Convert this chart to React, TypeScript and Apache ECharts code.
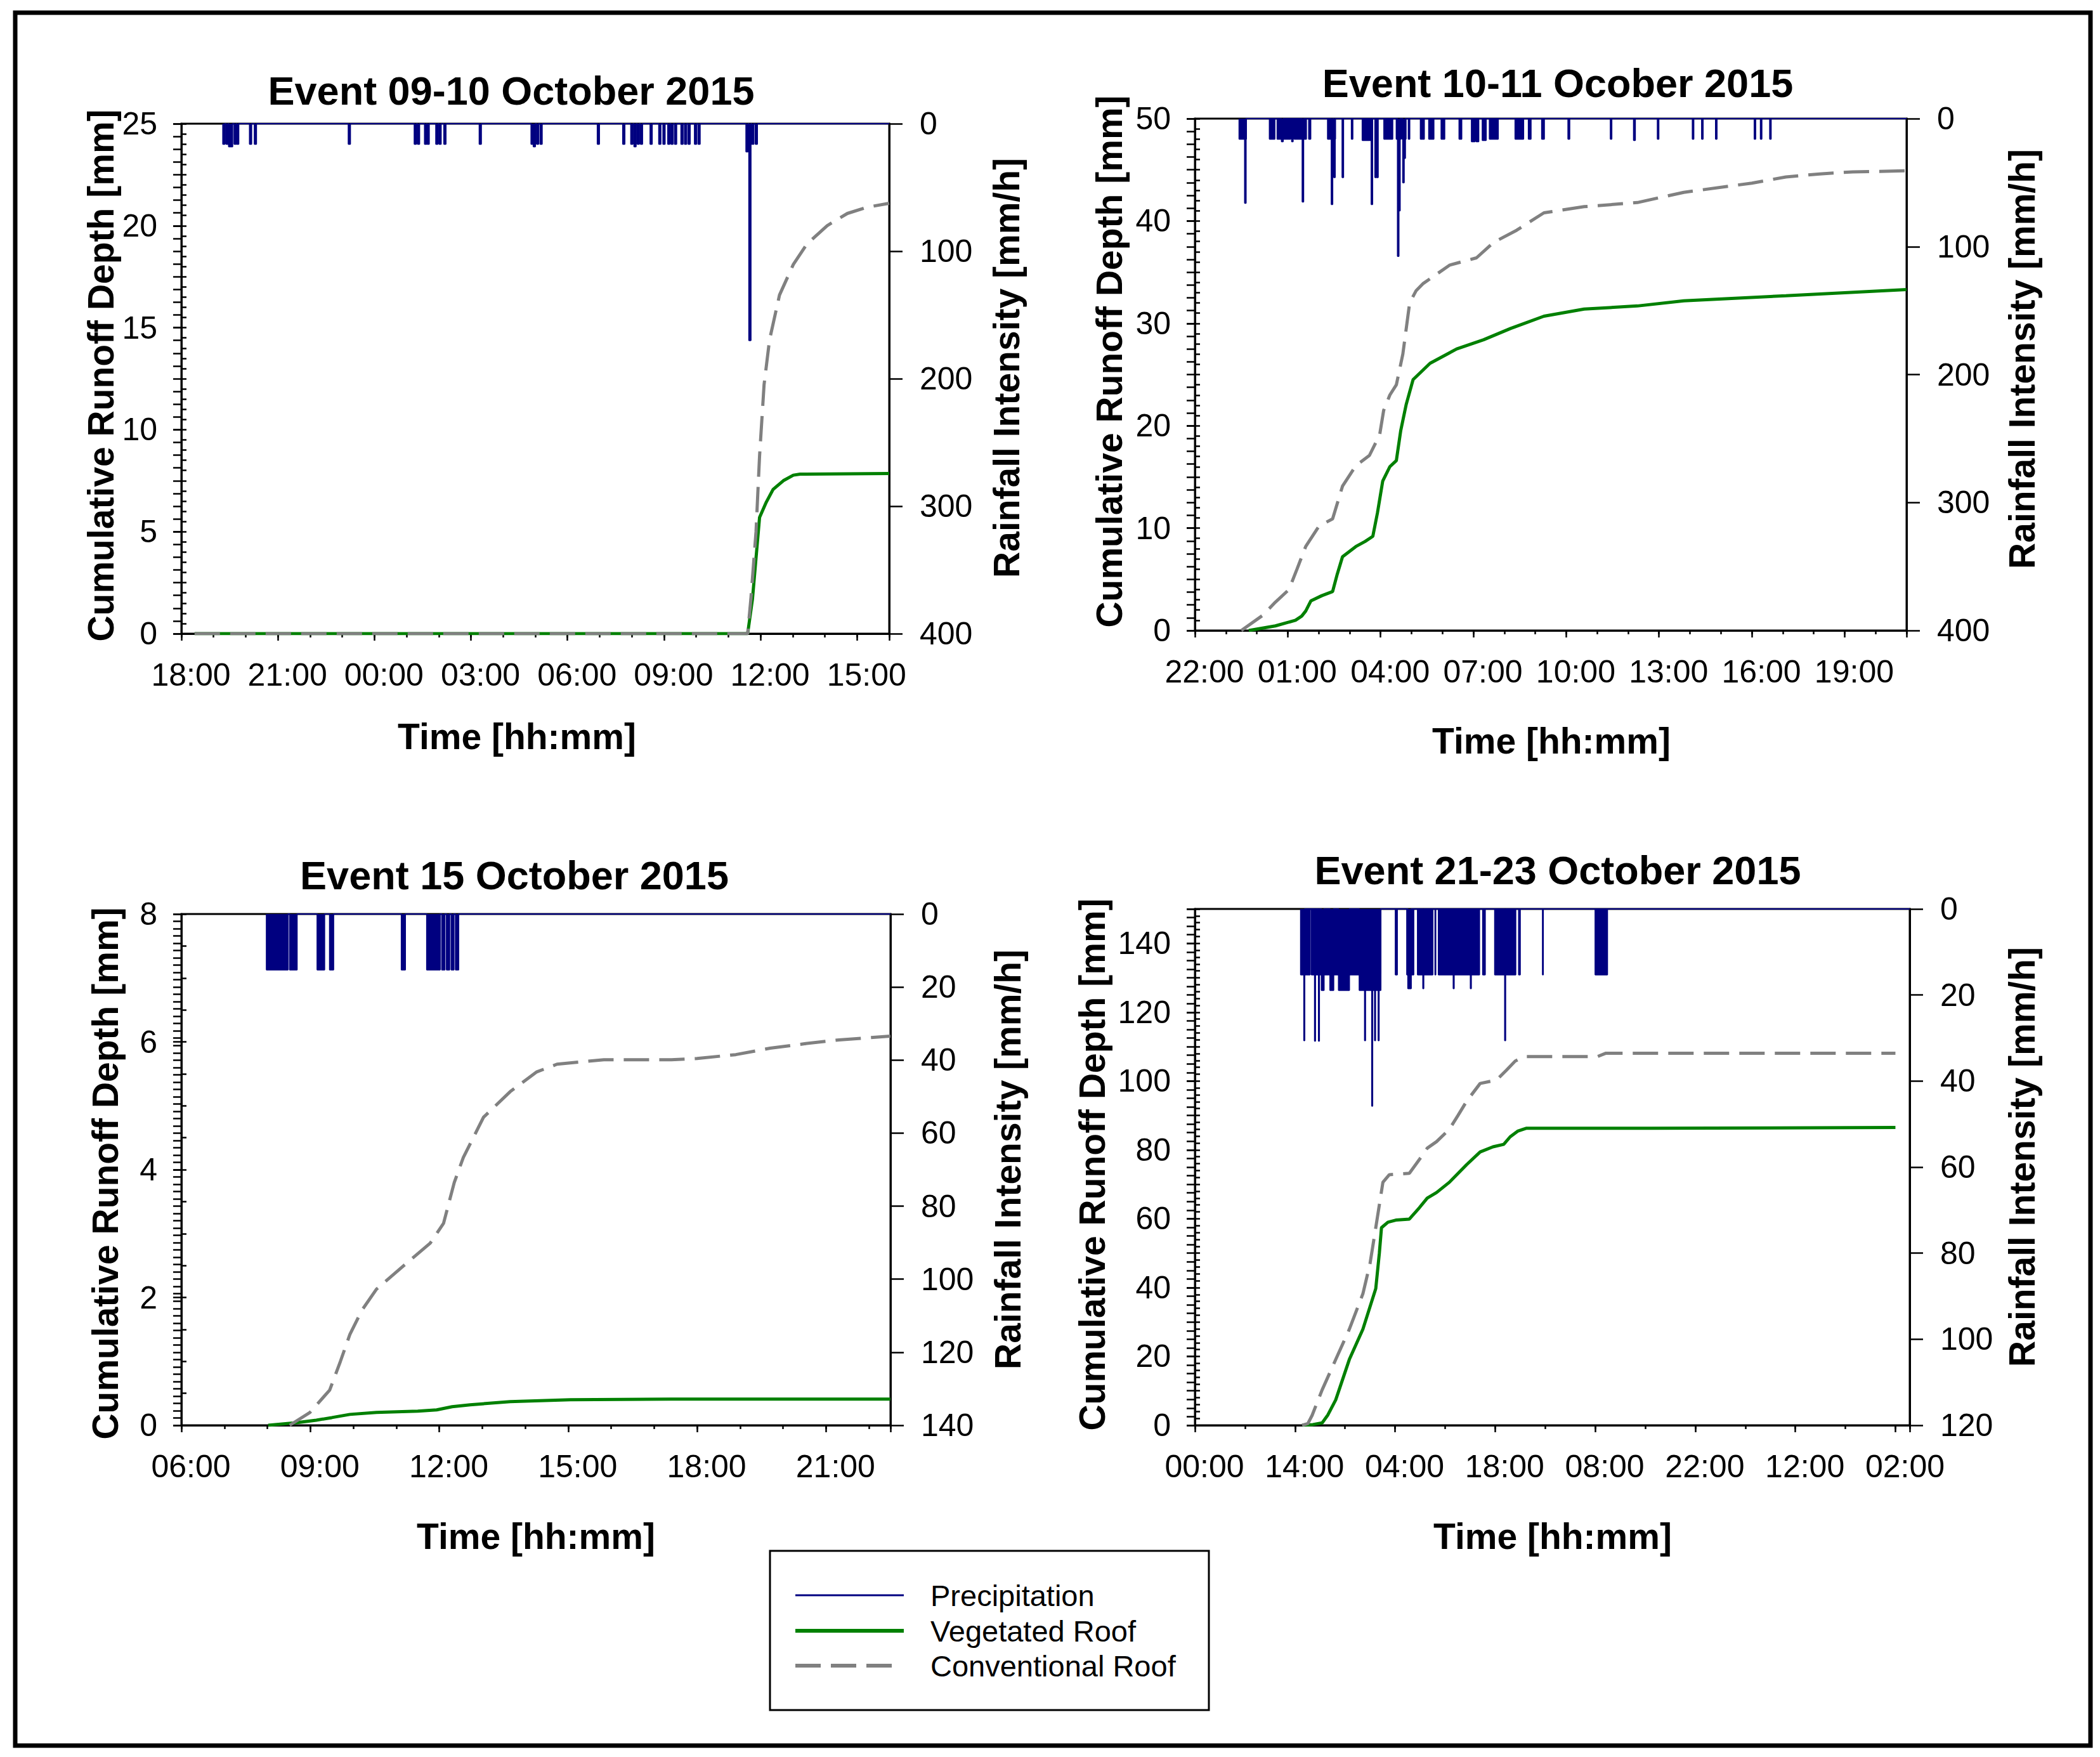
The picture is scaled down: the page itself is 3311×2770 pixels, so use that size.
import React, { useEffect, useRef } from "react";
import * as echarts from "echarts";

const FONT = '"Liberation Sans", Arial, Helvetica, sans-serif';
const NAVY = "#000080";
const GREEN = "#008000";
const GRAY = "#808080";

// ---------------- Panel 1: Event 09-10 October 2015 (axis starts 18:00) ----------------
const p1Title = "Event 09-10 October 2015";
const p1StartHour = 18;
const p1VegT = [0.41, 17.6, 17.75, 17.86, 17.97, 18.18, 18.39, 18.71, 19.02, 19.23, 22];
const p1VegV = [0, 0, 1.7, 3.7, 5.7, 6.45, 7.07, 7.5, 7.77, 7.82, 7.85];
const p1ConvT = [0.41, 17.6, 17.7, 17.86, 17.97, 18.11, 18.28, 18.59, 19.02, 19.44, 20.07, 20.7, 21.3, 22];
const p1ConvV = [0, 0, 1.7, 5.0, 8.7, 12.2, 14.4, 16.6, 18.1, 19.1, 20.0, 20.6, 20.9, 21.1];
const p1RainT = [1.32, 1.42, 1.5, 1.56, 1.67, 1.75, 2.15, 2.3, 5.22, 7.27, 7.37, 7.59, 7.67, 7.94, 8.04, 8.19, 9.29, 10.9, 10.97, 11.07, 11.18, 12.96, 13.75, 14.0, 14.1, 14.2, 14.3, 14.6, 14.87, 15.0, 15.15, 15.25, 15.36, 15.56, 15.67, 15.78, 15.98, 16.09, 17.58, 17.67, 17.76, 17.87];
const p1RainV = [16, 16, 18, 18, 16, 16, 16, 16, 16, 16, 16, 16, 16, 16, 16, 16, 16, 16, 18, 16, 16, 16, 16, 16, 18, 16, 16, 16, 16, 16, 16, 16, 16, 16, 16, 16, 16, 16, 22, 170, 16, 16];

// ---------------- Panel 2: Event 10-11 Ocober 2015 (axis starts 22:00) ----------------
const p2Title = "Event 10-11 Ocober 2015";
const p2StartHour = 22;
const p2VegT = [1.74, 2.6, 3.25, 3.45, 3.58, 3.75, 4.1, 4.45, 4.6, 4.77, 5.2, 5.5, 5.75, 5.9, 6.07, 6.3, 6.51, 6.65, 6.83, 7.05, 7.6, 8.46, 9.33, 10.2, 11.28, 12.58, 14.3, 15.8, 19.1, 23];
const p2VegV = [0, 0.45, 1.0, 1.4, 1.9, 2.9, 3.4, 3.8, 5.5, 7.2, 8.2, 8.7, 9.2, 11.5, 14.6, 16.0, 16.6, 19.5, 22.1, 24.5, 26.1, 27.5, 28.4, 29.5, 30.7, 31.4, 31.7, 32.2, 32.7, 33.3];
const p2ConvT = [1.5, 2.2, 2.6, 3.04, 3.3, 3.58, 4.01, 4.45, 4.77, 5.2, 5.64, 5.97, 6.1, 6.3, 6.51, 6.72, 6.94, 7.15, 7.38, 8.24, 9.1, 9.65, 10.4, 11.28, 12.58, 14.3, 15.8, 18.0, 19.1, 20.2, 21.26, 23];
const p2ConvV = [0, 1.5, 2.77, 4.0, 6.0, 8.2, 10.2, 10.9, 14.1, 16.1, 17.1, 19.1, 21.5, 23.0, 24.0, 27.0, 32.0, 33.2, 33.9, 35.7, 36.4, 37.9, 39.1, 40.8, 41.4, 41.8, 42.8, 43.7, 44.3, 44.6, 44.8, 44.9];
const p2RainStart = [1.43, 2.41, 2.66, 3.13, 3.21, 3.68, 4.29, 5.06, 5.41, 6.11, 6.51, 6.7, 6.9, 7.29, 7.56, 7.96, 8.54, 8.94, 9.09, 9.29, 9.52, 10.35, 10.78, 11.21, 12.06, 13.43, 14.18, 14.95, 16.08, 16.38, 16.83, 18.08, 18.28, 18.58];
const p2RainEnd = [1.66, 2.58, 3.09, 3.17, 3.6, 3.74, 4.54, 5.1, 5.72, 6.39, 6.66, 6.82, 6.94, 7.41, 7.72, 8.07, 8.62, 9.05, 9.17, 9.41, 9.8, 10.62, 10.86, 11.29, 12.11, 13.47, 14.23, 14.99, 16.12, 16.42, 16.87, 18.12, 18.32, 18.62];
const p2RainV = [16, 16, 16, 18, 16, 16, 16, 16, 17, 16, 16, 16, 16, 16, 16, 16, 16, 18, 18, 17, 16, 16, 16, 16, 16, 16, 17, 16, 16, 16, 16, 16, 16, 16];
const p2PeakStart = [1.61, 2.8, 3.47, 4.41, 4.49, 4.76, 5.7, 5.82, 5.88, 6.55, 6.6, 6.72, 6.77];
const p2PeakEnd = [1.65, 2.85, 3.51, 4.45, 4.53, 4.8, 5.74, 5.86, 5.92, 6.59, 6.63, 6.76, 6.8];
const p2PeakV = [66, 18, 65, 67, 46, 46, 67, 46, 46, 107.5, 72, 50, 31];

// ---------------- Panel 3: Event 15 October 2015 (axis starts 06:00) ----------------
const p3Title = "Event 15 October 2015";
const p3StartHour = 6;
const p3VegT = [2.02, 2.67, 3.14, 3.5, 3.92, 4.54, 5.5, 5.94, 6.3, 6.72, 7.65, 9.05, 11.4, 16.5];
const p3VegV = [0, 0.04, 0.08, 0.12, 0.17, 0.2, 0.22, 0.24, 0.29, 0.32, 0.37, 0.4, 0.41, 0.41];
const p3ConvT = [2.52, 2.99, 3.45, 3.7, 3.92, 4.2, 4.54, 5.16, 5.79, 6.1, 6.35, 6.56, 7.03, 7.65, 8.27, 8.74, 9.83, 11.4, 12.0, 12.9, 13.7, 14.5, 15.3, 16.5];
const p3ConvV = [0, 0.2, 0.55, 1.0, 1.42, 1.8, 2.13, 2.49, 2.85, 3.16, 3.8, 4.19, 4.82, 5.22, 5.53, 5.65, 5.72, 5.72, 5.74, 5.8, 5.9, 5.97, 6.03, 6.09];
const p3RainStart = [1.98, 2.52, 3.16, 3.45, 5.12, 5.71, 6.06, 6.17, 6.28, 6.38];
const p3RainEnd = [2.48, 2.69, 3.33, 3.54, 5.21, 6.02, 6.13, 6.24, 6.34, 6.45];
const p3RainV = [15.3, 15.3, 15.3, 15.3, 15.3, 15.3, 15.3, 15.3, 15.3, 15.3];
const p3PeakStart: number[] = [];
const p3PeakEnd: number[] = [];
const p3PeakV: number[] = [];

// ---------------- Panel 4: Event 21-23 October 2015 (axis starts 00:00) ----------------
const p4Title = "Event 21-23 October 2015";
const p4StartHour = 0;
const p4VegT = [15, 16.5, 17.8, 18.6, 19.7, 21.6, 23.5, 25.3, 25.8, 26.1, 27, 28.1, 30, 31.4, 32.5, 33.8, 35.6, 38, 39.9, 41.7, 43.2, 44.1, 45.2, 46.4, 63.8, 98];
const p4VegV = [0, 0.2, 0.7, 3.0, 7.4, 19.1, 27.9, 39.7, 50, 57.4, 59, 59.6, 59.9, 63.2, 66, 67.6, 70.6, 75.7, 79.4, 80.9, 81.6, 83.8, 85.5, 86.3, 86.3, 86.5];
const p4ConvT = [15, 15.8, 16.4, 17.8, 19.7, 21.6, 23.5, 24.5, 25.3, 26.3, 27.2, 30, 31.4, 32.5, 33.8, 35.6, 36.8, 38, 39.9, 42.2, 43.6, 44.8, 46, 56.3, 57.5, 98];
const p4ConvV = [0, 0.5, 2.9, 10.3, 19.1, 27.9, 38.2, 47, 57.4, 70.6, 72.8, 73.2, 77.2, 80.5, 82.4, 86, 90, 94.1, 99.3, 100.3, 103.2, 105.8, 107.1, 107.1, 108.1, 108.1];
const p4RainStart = [14.8, 16.3, 28.05, 29.65, 31.15, 33.6, 34.07, 40.27, 41.95, 45.3, 48.64, 56.0];
const p4RainEnd = [16.1, 26.0, 28.3, 30.6, 33.27, 33.68, 39.8, 40.6, 44.87, 45.5, 48.72, 57.7];
const p4RainV = [15.3, 15.3, 15.3, 15.3, 15.3, 15.3, 15.3, 15.3, 15.3, 15.3, 15.3, 15.3];
const p4PeakStart = [15.25, 16.75, 17.3, 17.7, 18.9, 20.1, 23.0, 23.75, 23.85, 24.75, 24.85, 25.15, 25.25, 25.65, 25.75, 29.8, 31.9, 36.15, 38.55, 43.35];
const p4PeakEnd = [15.35, 16.85, 17.4, 18.05, 19.4, 21.6, 23.75, 23.85, 24.75, 24.85, 25.15, 25.25, 25.65, 25.75, 26.0, 30.25, 32.0, 36.25, 38.65, 43.45];
const p4PeakV = [30.6, 30.7, 30.7, 18.9, 18.9, 18.9, 18.9, 30.6, 18.9, 45.8, 18.9, 30.6, 18.9, 30.6, 18.9, 18.5, 18.5, 18.5, 18.5, 30.6];

// ---------------- Axis ranges ----------------
const xMaxes = [22, 23, 16.5, 100];
const xMajor = [3, 3, 3, 14];
const xMinorStep = [1, 1, 1, 7];
const leftMax = [25, 50, 8, 150];
const leftMajor = [5, 10, 2, 20];
const leftMinorStep = [0.5, 1, 0.5, 2];
const rightMax = [400, 400, 140, 120];
const rightMajor = [100, 100, 20, 20];
const rightMinorStep = [10, 10, 2, 2];

const legendNames = ["Precipitation", "Vegetated Roof", "Conventional Roof"];

function zip(t: number[], v: number[]) {
  return t.map((x, i) => [x, v[i]]);
}

function pulses(s: number[], e: number[], v: number[], xMax: number) {
  const d: number[][] = [];
  for (let i = 0; i < s.length; i++) {
    d.push([s[i], 0], [s[i], v[i]], [e[i], v[i]], [e[i], 0]);
  }
  if (d.length) d.push([xMax, 0]);
  return d;
}

function isMult(v: number, step: number) {
  const r = v / step;
  return Math.abs(r - Math.round(r)) < 1e-6;
}

function hhmm(start: number, v: number) {
  const h = ((((start + v) % 24) + 24) % 24);
  return String(Math.round(h)).padStart(2, "0") + ":00";
}

const panels = [
  {
    title: p1Title, start: p1StartHour,
    vegT: p1VegT, vegV: p1VegV, convT: p1ConvT, convV: p1ConvV,
    rS: p1RainT.map((t) => t - 0.03), rE: p1RainT.map((t) => t + 0.03), rV: p1RainV,
    pS: [] as number[], pE: [] as number[], pV: [] as number[],
    grid: { left: 286, top: 195, width: 1116, height: 804 },
    titlePos: [806, 143], leftName: [159, 592], rightName: [1587, 580], xName: [815, 1161],
  },
  {
    title: p2Title, start: p2StartHour,
    vegT: p2VegT, vegV: p2VegV, convT: p2ConvT, convV: p2ConvV,
    rS: p2RainStart, rE: p2RainEnd, rV: p2RainV,
    pS: p2PeakStart, pE: p2PeakEnd, pV: p2PeakV,
    grid: { left: 1884, top: 187, width: 1122, height: 807 },
    titlePos: [2456, 131], leftName: [1749, 570], rightName: [3188, 566], xName: [2446, 1168],
  },
  {
    title: p3Title, start: p3StartHour,
    vegT: p3VegT, vegV: p3VegV, convT: p3ConvT, convV: p3ConvV,
    rS: p3RainStart, rE: p3RainEnd, rV: p3RainV,
    pS: p3PeakStart, pE: p3PeakEnd, pV: p3PeakV,
    grid: { left: 286, top: 1441, width: 1118, height: 806 },
    titlePos: [811, 1380], leftName: [166, 1850], rightName: [1589, 1828], xName: [845, 2422],
  },
  {
    title: p4Title, start: p4StartHour,
    vegT: p4VegT, vegV: p4VegV, convT: p4ConvT, convV: p4ConvV,
    rS: p4RainStart, rE: p4RainEnd, rV: p4RainV,
    pS: p4PeakStart, pE: p4PeakEnd, pV: p4PeakV,
    grid: { left: 1884, top: 1433, width: 1127, height: 814 },
    titlePos: [2456, 1372], leftName: [1722, 1836], rightName: [3188, 1824], xName: [2448, 2422],
  },
];

function buildOption() {
  const grid: any[] = [];
  const xAxis: any[] = [];
  const yAxis: any[] = [];
  const series: any[] = [];
  const graphic: any[] = [];
  const labelBase = { fontSize: 50, fontFamily: FONT, color: "#000" };
  const black = { color: "#000", width: 3 };

  panels.forEach((p, i) => {
    grid.push({
      ...p.grid,
      show: true,
      borderColor: "#000",
      borderWidth: 3,
      backgroundColor: "transparent",
      containLabel: false,
      outerBoundsMode: "none",
    });
    const start = p.start;
    const xi = xMajor[i];
    // major x
    xAxis.push({
      type: "value", gridIndex: i, position: "bottom", min: 0, max: xMaxes[i], interval: xi,
      axisLine: { show: true, onZero: false, lineStyle: black },
      axisTick: { show: true, length: 11, lineStyle: { color: "#000", width: 2.5 } },
      axisLabel: {
        ...labelBase, margin: 40, padding: [0, 0, 0, 30],
        formatter: (v: number) => (isMult(v, xi) ? hhmm(start, v) : ""),
      },
      splitLine: { show: false },
    });
    // minor x
    xAxis.push({
      type: "value", gridIndex: i, position: "bottom", min: 0, max: xMaxes[i], interval: xMinorStep[i],
      axisLine: { show: false }, axisLabel: { show: false }, splitLine: { show: false },
      axisTick: { show: true, length: 6, lineStyle: { color: "#000", width: 2.5 } },
    });
    const li = leftMajor[i];
    const ri = rightMajor[i];
    // left major
    yAxis.push({
      type: "value", gridIndex: i, position: "left", offset: 0, min: 0, max: leftMax[i], interval: li,
      axisLine: { show: true, onZero: false, lineStyle: black },
      axisTick: { show: true, length: 13, lineStyle: { color: "#000", width: 2.5 } },
      axisLabel: { ...labelBase, margin: 38, formatter: (v: number) => (isMult(v, li) ? String(v) : "") },
      splitLine: { show: false },
    });
    // right major
    yAxis.push({
      type: "value", gridIndex: i, position: "right", offset: 0, inverse: true, min: 0, max: rightMax[i], interval: ri,
      axisLine: { show: true, onZero: false, lineStyle: black },
      axisTick: { show: true, length: 21, lineStyle: { color: "#000", width: 2.5 } },
      axisLabel: { ...labelBase, margin: 48, formatter: (v: number) => (isMult(v, ri) ? String(v) : "") },
      splitLine: { show: false },
    });
    // left minor
    yAxis.push({
      type: "value", gridIndex: i, position: "left", offset: 0, min: 0, max: leftMax[i], interval: leftMinorStep[i],
      axisLine: { show: false }, axisLabel: { show: false }, splitLine: { show: false },
      axisTick: { show: true, inside: true, length: 8, lineStyle: { color: "#000", width: 2.5 } },
    });
    // right minor
    yAxis.push({
      type: "value", gridIndex: i, position: "right", offset: 0, inverse: true, min: 0, max: rightMax[i], interval: rightMinorStep[i],
      axisLine: { show: false }, axisLabel: { show: false }, splitLine: { show: false },
      axisTick: { show: true, inside: true, length: 13, lineStyle: { color: "#000", width: 2.5 } },
    });

    const rainCommon = {
      type: "line", xAxisIndex: 2 * i, yAxisIndex: 4 * i + 1, symbol: "none", silent: true,
      lineStyle: { color: NAVY, width: 2 },
      areaStyle: { color: NAVY, opacity: 1, origin: "start" },
      z: 2,
    };
    series.push({ ...rainCommon, name: legendNames[0], data: pulses(p.rS, p.rE, p.rV, xMaxes[i]) });
    if (p.pS.length) {
      series.push({ ...rainCommon, name: legendNames[0], data: pulses(p.pS, p.pE, p.pV, xMaxes[i]) });
    }
    series.push({
      type: "line", name: legendNames[1], xAxisIndex: 2 * i, yAxisIndex: 4 * i, symbol: "none", silent: true,
      data: zip(p.vegT, p.vegV), lineStyle: { color: GREEN, width: 5 }, z: 3,
    });
    series.push({
      type: "line", name: legendNames[2], xAxisIndex: 2 * i, yAxisIndex: 4 * i, symbol: "none", silent: true,
      data: zip(p.convT, p.convV), lineStyle: { color: GRAY, width: 5, type: [40, 16] }, z: 4,
    });

    graphic.push({
      type: "text", x: p.titlePos[0], y: p.titlePos[1], silent: true,
      style: { text: p.title, fontSize: 63, fontWeight: "bold", fontFamily: FONT, fill: "#000", align: "center", verticalAlign: "middle" },
    });
    graphic.push({
      type: "text", x: p.leftName[0], y: p.leftName[1], rotation: Math.PI / 2, silent: true,
      style: { text: "Cumulative Runoff Depth [mm]", fontSize: 57, fontWeight: "bold", fontFamily: FONT, fill: "#000", align: "center", verticalAlign: "middle" },
    });
    graphic.push({
      type: "text", x: p.rightName[0], y: p.rightName[1], rotation: Math.PI / 2, silent: true,
      style: { text: "Rainfall Intensity [mm/h]", fontSize: 57, fontWeight: "bold", fontFamily: FONT, fill: "#000", align: "center", verticalAlign: "middle" },
    });
    graphic.push({
      type: "text", x: p.xName[0], y: p.xName[1], silent: true,
      style: { text: "Time [hh:mm]", fontSize: 57, fontWeight: "bold", fontFamily: FONT, fill: "#000", align: "center", verticalAlign: "middle" },
    });
  });

  // outer frame
  graphic.push({
    type: "rect", silent: true, z: -10,
    shape: { x: 24, y: 20, width: 3272, height: 2732 },
    style: { fill: "none", stroke: "#000", lineWidth: 7 },
  });
  // legend box
  graphic.push({
    type: "rect", silent: true,
    shape: { x: 1214, y: 2445, width: 692, height: 251 },
    style: { fill: "#fff", stroke: "#000", lineWidth: 3 },
  });
  const legY = [2515, 2571, 2626];
  graphic.push({ type: "line", silent: true, shape: { x1: 1254, y1: legY[0], x2: 1425, y2: legY[0] }, style: { stroke: NAVY, lineWidth: 3 } });
  graphic.push({ type: "line", silent: true, shape: { x1: 1254, y1: legY[1], x2: 1425, y2: legY[1] }, style: { stroke: GREEN, lineWidth: 6 } });
  graphic.push({ type: "line", silent: true, shape: { x1: 1254, y1: legY[2], x2: 1410, y2: legY[2] }, style: { stroke: GRAY, lineWidth: 6, lineDash: [40, 16] } });
  legendNames.forEach((n, k) => {
    graphic.push({
      type: "text", x: 1467, y: legY[k], silent: true,
      style: { text: n, fontSize: 47, fontFamily: FONT, fill: "#000", align: "left", verticalAlign: "middle" },
    });
  });

  return {
    animation: false,
    backgroundColor: "#fff",
    grid, xAxis, yAxis, series, graphic,
  };
}

export default function App() {
  const ref = useRef<HTMLDivElement>(null);
  useEffect(() => {
    if (!ref.current) return;
    const chart = echarts.init(ref.current, undefined, { renderer: "svg" });
    chart.setOption(buildOption() as any);
    return () => chart.dispose();
  }, []);
  return (
    <div
      ref={ref}
      style={{ position: "absolute", left: 0, top: 0, width: 3311, height: 2770, background: "#fff" }}
    />
  );
}
